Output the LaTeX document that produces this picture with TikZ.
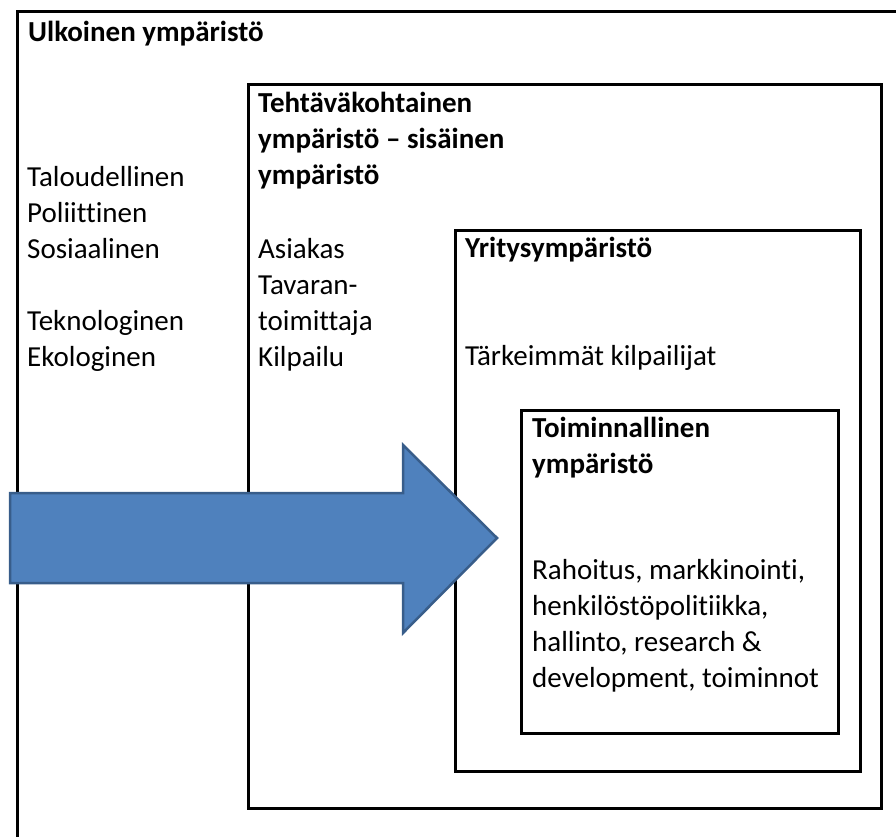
\documentclass[tikz,border=0pt]{standalone}
\usepackage{fontspec}
\setmainfont{Carlito}[Ligatures=NoCommon]
\usepackage{tikz}
\usetikzlibrary{positioning}

\definecolor{arrowfill}{RGB}{79,129,189}
\definecolor{arrowedge}{RGB}{56,93,138}

\tikzset{
  envbox/.style={draw, line width=3pt},
  txt/.style={anchor=base west, inner sep=0pt, align=left},
  head/.style={txt, font=\bfseries}
}

\begin{document}
\begin{tikzpicture}[x=1pt,y=-1pt]
      \useasboundingbox (0,0) rectangle (896,837);
      \fontsize{29}{36}\selectfont
      \begin{scope}
        % outer environment, cut at the page edge
        \draw[line width=3pt] (17,837) -- (17,12) -- (896,12);

        \draw[envbox] (248,85) rectangle (881,808);
        \draw[envbox] (455,230) rectangle (860,771);
        \draw[envbox] (521,410) rectangle (838,733);

        % multi-line nodes sit on the baseline of their last line
        \node[head] (ulko) at (28,42) {Ulkoinen ympäristö};
        \node[txt] (pest) at (27,258) {Taloudellinen\\Poliittinen\\Sosiaalinen};
        \node[txt] (tekno) at (27,366) {Teknologinen\\Ekologinen};

        \node[head] (tehtava) at (258,185) {Tehtäväkohtainen\\ympäristö – sisäinen\\ympäristö};
        \node[txt] (sidos) at (258,366) {Asiakas\\Tavaran-\\toimittaja\\Kilpailu};

        \node[head] (yritys) at (465,257) {Yritysympäristö};
        \node[txt] (kilp) at (465,365) {Tärkeimmät kilpailijat};

        \node[head] (toim) at (532,473) {Toiminnallinen\\ympäristö};
        \node[txt] (toiminnot) at (532,687) {Rahoitus, markkinointi,\\henkilöstöpolitiikka,\\hallinto, research \&\\development, toiminnot};

        % big arrow
        \draw[fill=arrowfill, draw=arrowedge, line width=2.5pt]
          (10,493) -- (403,493) -- (403,445) -- (497,538) -- (403,633) -- (403,583) -- (10,583) -- cycle;
      \end{scope}
    \end{tikzpicture}
\end{document}
